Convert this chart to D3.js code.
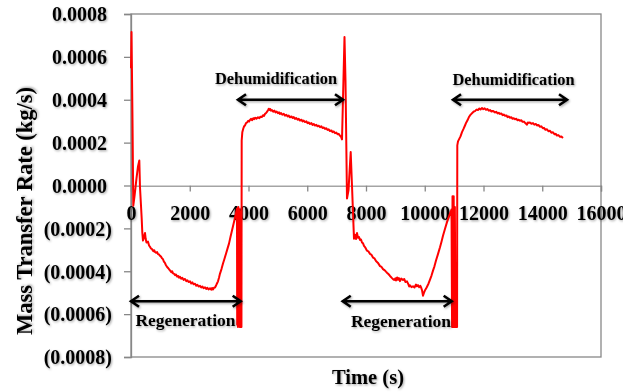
<!DOCTYPE html>
<html><head><meta charset="utf-8">
<script src="https://cdn.jsdelivr.net/npm/d3@7/dist/d3.min.js"></script>
<style>
body{margin:0;background:#fff;}
text{font-family:"Liberation Serif","Times New Roman",serif;font-weight:bold;fill:#000;}
</style>
</head><body>
<svg id="chart" width="635" height="392"></svg>
<script>
// ---- data: [time (s), mass transfer rate (kg/s)] ----
const startup = [
[0,0.000547],[17,0.000716],[51,0.000304],[78,-0.000094],[119,-0.000051],[187,0.000033],[238,0.000089],[283,0.000117],
[306,-0.000008],[340,-0.000093],[364,-0.000154],[385,-0.000220],[408,-0.000257],[443,-0.000240],[477,-0.000222],[500,-0.000250],[528,-0.000266]
];
const regeneration1 = [
[579,-0.000262],[615,-0.000280],[647,-0.000286],[680,-0.000294],[715,-0.000297],[760,-0.000306],[790,-0.000302],[817,-0.000310],
[860,-0.000314],[890,-0.000311],[919,-0.000320],[955,-0.000322],[987,-0.000328],[1030,-0.000333],[1060,-0.000340],[1089,-0.000344],
[1120,-0.000355],[1150,-0.000360],[1191,-0.000372],[1230,-0.000380],[1270,-0.000386],[1300,-0.000392],[1328,-0.000396],[1370,-0.000404],
[1400,-0.000400],[1430,-0.000410],[1470,-0.000412],[1500,-0.000418],[1532,-0.000415],[1570,-0.000425],[1610,-0.000422],[1640,-0.000430],
[1668,-0.000426],[1710,-0.000435],[1750,-0.000431],[1790,-0.000440],[1838,-0.000436],[1880,-0.000446],[1920,-0.000442],[1960,-0.000450],
[2008,-0.000447],[2050,-0.000457],[2090,-0.000452],[2130,-0.000461],[2179,-0.000458],[2220,-0.000467],[2260,-0.000463],[2300,-0.000471],
[2349,-0.000468],[2390,-0.000476],[2430,-0.000471],[2470,-0.000479],[2519,-0.000475],[2560,-0.000483],[2600,-0.000477],[2640,-0.000485],
[2689,-0.000479],[2730,-0.000486],[2760,-0.000478],[2791,-0.000485],[2825,-0.000477],[2860,-0.000476],[2900,-0.000465],[2930,-0.000456],
[2962,-0.000447],[3000,-0.000428],[3030,-0.000411],[3080,-0.000390],[3132,-0.000364],[3180,-0.000343],[3234,-0.000318],[3290,-0.000292],
[3336,-0.000271],[3390,-0.000238],[3438,-0.000210],[3490,-0.000180],[3540,-0.000150],[3575,-0.000128],[3608,-0.000107]
];
const switchover1 = [
[3615,-0.00065],[3625,-0.00012],[3640,-0.00066],[3655,-0.00010],[3670,-0.00065],[3685,-0.00011],[3700,-0.00066],[3715,-0.00012],
[3730,-0.00065],[3744,-0.00066],[3760,-0.00066],[3768,0.000210]
];
const dehumidification1 = [
[3789,0.000248],[3823,0.000266],[3850,0.000276],[3881,0.000280],[3915,0.000291],[3949,0.000294],[3990,0.000302],[4020,0.000298],
[4051,0.000306],[4090,0.000311],[4120,0.000305],[4160,0.000314],[4187,0.000309],[4230,0.000316],[4270,0.000312],[4323,0.000318],
[4370,0.000314],[4410,0.000321],[4459,0.000320],[4500,0.000328],[4530,0.000325],[4562,0.000334],[4600,0.000338],[4640,0.000346],
[4664,0.000351],[4690,0.000358],[4715,0.000353],[4740,0.000357],[4770,0.000349],[4800,0.000352],[4840,0.000344],[4880,0.000349],
[4920,0.000341],[4960,0.000345],[5000,0.000337],[5040,0.000341],[5072,0.000334],[5110,0.000338],[5150,0.000330],[5200,0.000334],
[5242,0.000326],[5290,0.000330],[5330,0.000322],[5370,0.000326],[5413,0.000318],[5460,0.000322],[5500,0.000315],[5540,0.000319],
[5583,0.000311],[5620,0.000315],[5670,0.000307],[5710,0.000311],[5753,0.000303],[5800,0.000307],[5840,0.000299],[5880,0.000303],
[5923,0.000296],[5970,0.000299],[6010,0.000291],[6050,0.000294],[6094,0.000287],[6140,0.000291],[6180,0.000283],[6220,0.000287],
[6264,0.000280],[6310,0.000283],[6350,0.000276],[6390,0.000279],[6434,0.000272],[6480,0.000276],[6520,0.000268],[6560,0.000271],
[6604,0.000264],[6650,0.000267],[6690,0.000259],[6730,0.000262],[6774,0.000254],[6820,0.000257],[6860,0.000249],[6900,0.000252],
[6945,0.000244],[6990,0.000247],[7030,0.000239],[7070,0.000241],[7115,0.000232],[7150,0.000228],[7183,0.000215]
];
const switchover2 = [
[7268,0.000693],[7302,0.000490],[7353,-0.000061],[7404,-0.000023],[7479,0.000156],[7523,0.000000],[7568,-0.000164]
];
const regeneration2 = [
[7591,-0.000248],[7625,-0.000230],[7660,-0.000250],[7694,-0.000222],[7728,-0.000244],[7760,-0.000240],[7796,-0.000254],[7830,-0.000252],
[7864,-0.000266],[7900,-0.000270],[7932,-0.000282],[7980,-0.000290],[8034,-0.000304],[8080,-0.000307],[8136,-0.000319],[8180,-0.000322],
[8238,-0.000336],[8290,-0.000340],[8340,-0.000352],[8400,-0.000360],[8440,-0.000368],[8477,-0.000376],[8530,-0.000380],[8579,-0.000390],
[8640,-0.000396],[8680,-0.000402],[8715,-0.000407],[8770,-0.000414],[8817,-0.000422],[8870,-0.000430],[8919,-0.000437],[8960,-0.000441],
[9000,-0.000433],[9021,-0.000443],[9060,-0.000429],[9089,-0.000440],[9120,-0.000432],[9157,-0.000446],[9200,-0.000434],[9259,-0.000441],
[9300,-0.000436],[9340,-0.000450],[9395,-0.000447],[9440,-0.000460],[9470,-0.000471],[9498,-0.000466],[9550,-0.000474],[9600,-0.000470],
[9650,-0.000476],[9702,-0.000462],[9730,-0.000470],[9770,-0.000465],[9810,-0.000474],[9850,-0.000468],[9872,-0.000474],[9910,-0.000490],
[9940,-0.000514],[9975,-0.000500],[10008,-0.000489],[10040,-0.000482],[10077,-0.000472],[10130,-0.000457],[10179,-0.000439],[10230,-0.000420],
[10281,-0.000397],[10330,-0.000377],[10383,-0.000350],[10450,-0.000320],[10519,-0.000288],[10570,-0.000262],[10621,-0.000234],[10690,-0.000202],
[10757,-0.000171],[10810,-0.000150],[10860,-0.000131],[10911,-0.000112]
];
const switchover3 = [
[10930,-0.00066],[10945,-0.00005],[10965,-0.00066],[10985,-0.00005],[11005,-0.00066],[11025,-0.00010],[11045,-0.00066],[11062,-0.00066],
[11100,-0.00066],[11108,0.000187]
];
const dehumidification2 = [
[11132,0.000206],[11166,0.000215],[11217,0.000229],[11268,0.000249],[11319,0.000264],[11370,0.000280],[11410,0.000293],[11455,0.000304],
[11500,0.000318],[11540,0.000327],[11580,0.000333],[11625,0.000339],[11670,0.000345],[11710,0.000347],[11760,0.000354],[11812,0.000352],
[11860,0.000359],[11900,0.000355],[11949,0.000361],[11990,0.000356],[12040,0.000360],[12085,0.000353],[12130,0.000357],[12180,0.000349],
[12221,0.000352],[12270,0.000345],[12320,0.000348],[12391,0.000341],[12430,0.000344],[12480,0.000336],[12520,0.000339],[12561,0.000334],
[12610,0.000336],[12650,0.000328],[12690,0.000331],[12732,0.000325],[12780,0.000327],[12820,0.000319],[12860,0.000322],[12902,0.000316],
[12950,0.000318],[12990,0.000311],[13030,0.000314],[13072,0.000309],[13120,0.000311],[13160,0.000304],[13200,0.000307],[13242,0.000302],
[13290,0.000304],[13330,0.000297],[13379,0.000298],[13430,0.000290],[13481,0.000284],[13510,0.000294],[13532,0.000292],[13580,0.000294],
[13630,0.000288],[13685,0.000291],[13730,0.000284],[13780,0.000287],[13821,0.000280],[13870,0.000282],[13923,0.000274],[13970,0.000276],
[14020,0.000267],[14059,0.000269],[14110,0.000260],[14162,0.000262],[14210,0.000253],[14264,0.000255],[14310,0.000246],[14366,0.000248],
[14420,0.000239],[14460,0.000241],[14502,0.000233],[14550,0.000235],[14604,0.000227],[14650,0.000229],[14706,0.000222]
];
const xTickValues = [0,2000,4000,6000,8000,10000,12000,14000,16000];
const yTickValues = [-0.0008,-0.0006,-0.0004,-0.0002,0,0.0002,0.0004,0.0006,0.0008];
const phaseLabels = ["Dehumidification","Dehumidification","Regeneration","Regeneration"];
const phaseStart = [3642,10962,0,7207];
const phaseEnd = [7217,14843,3734,10917];
const phaseArrowRate = [0.0004,0.0004,-0.00054,-0.00054];
const phaseLabelTime = [4936,13021,1855,9191];
const phaseLabelRate = [0.000472,0.000467,-0.000657,-0.000661];
const xTitle = "Time (s)";
const yTitle = "Mass Transfer Rate (kg/s)";

// ---- chart ----
const svg = d3.select("#chart");
const L = 131, R = 601, T = 14, B = 357;
const x = d3.scaleLinear().domain([0,16000]).range([L,R]);
const y = d3.scaleLinear().domain([-0.0008,0.0008]).range([B,T]);
const axisColor = "#878787";

const defs = svg.append("defs");
const f = defs.append("filter").attr("id","sh").attr("x","-10%").attr("y","-30%").attr("width","130%").attr("height","180%");
f.append("feDropShadow").attr("dx",1).attr("dy",1.2).attr("stdDeviation",0.9).attr("flood-color","#000").attr("flood-opacity",0.35);
defs.append("clipPath").attr("id","clipR").append("rect").attr("x",0).attr("y",0).attr("width",623).attr("height",392);

// frame
svg.append("rect").attr("x",L).attr("y",T).attr("width",R-L).attr("height",B-T)
  .attr("fill","none").attr("stroke",axisColor).attr("stroke-width",1.3);

// y axis
const fmtY = v => {
  const s = Math.abs(v).toFixed(4);
  return v < -1e-12 ? "(" + s + ")" : s;
};
const yAxis = svg.append("g").attr("transform",`translate(${L},0)`)
  .call(d3.axisLeft(y).tickValues(yTickValues).tickSize(7).tickFormat(fmtY));
yAxis.select(".domain").attr("stroke",axisColor).attr("stroke-width",1.3);
yAxis.selectAll(".tick line").attr("stroke",axisColor).attr("stroke-width",1.3);
yAxis.selectAll(".tick text")
  .attr("x", d => d < -1e-12 ? -19 : -24)
  .attr("dy","0.34em")
  .attr("font-size",20).attr("font-family",null)
  .attr("filter","url(#sh)");

// x axis at zero
const xAxis = svg.append("g").attr("transform",`translate(0,${y(0)})`)
  .call(d3.axisBottom(x).tickValues(xTickValues).tickSize(6).tickPadding(14).tickFormat(d3.format("d")));
xAxis.select(".domain").attr("stroke",axisColor).attr("stroke-width",1.3);
xAxis.selectAll(".tick line").attr("stroke",axisColor).attr("stroke-width",1.3);
xAxis.selectAll(".tick text").attr("font-size",20).attr("font-family",null).attr("filter","url(#sh)");
xAxis.attr("clip-path","url(#clipR)");

// data line
const pts = [].concat(startup, regeneration1, switchover1, dehumidification1,
                      switchover2, regeneration2, switchover3, dehumidification2);
svg.append("path").datum(pts)
  .attr("fill","none").attr("stroke","#ff0000").attr("stroke-width",2)
  .attr("stroke-linejoin","round")
  .attr("d", d3.line().x(d=>x(d[0])).y(d=>y(d[1])));

// phase arrows + labels
const ag = svg.append("g").attr("filter","url(#sh)");
phaseLabels.forEach((lab,i)=>{
  const x0 = x(phaseStart[i]), x1 = x(phaseEnd[i]), yy = y(phaseArrowRate[i]);
  ag.append("path")
    .attr("d",`M${x0},${yy}L${x1},${yy}M${x0+8},${yy-5.5}L${x0},${yy}L${x0+8},${yy+5.5}M${x1-8},${yy-5.5}L${x1},${yy}L${x1-8},${yy+5.5}`)
    .attr("fill","none").attr("stroke","#000").attr("stroke-width",2.6).attr("stroke-linejoin","miter");
  ag.append("text").attr("x",x(phaseLabelTime[i])).attr("y",y(phaseLabelRate[i]))
    .attr("text-anchor","middle")
    .attr("font-size", lab === "Regeneration" ? 17.5 : 16.4)
    .text(lab);
});

// titles
svg.append("text").attr("x",(L+R)/2+2).attr("y",384).attr("text-anchor","middle")
  .attr("font-size",20.5).attr("filter","url(#sh)").text(xTitle);
svg.append("text").attr("transform","translate(32,211) rotate(-90)").attr("text-anchor","middle")
  .attr("font-size",22.5).attr("filter","url(#sh)").text(yTitle);
</script>
</body></html>
